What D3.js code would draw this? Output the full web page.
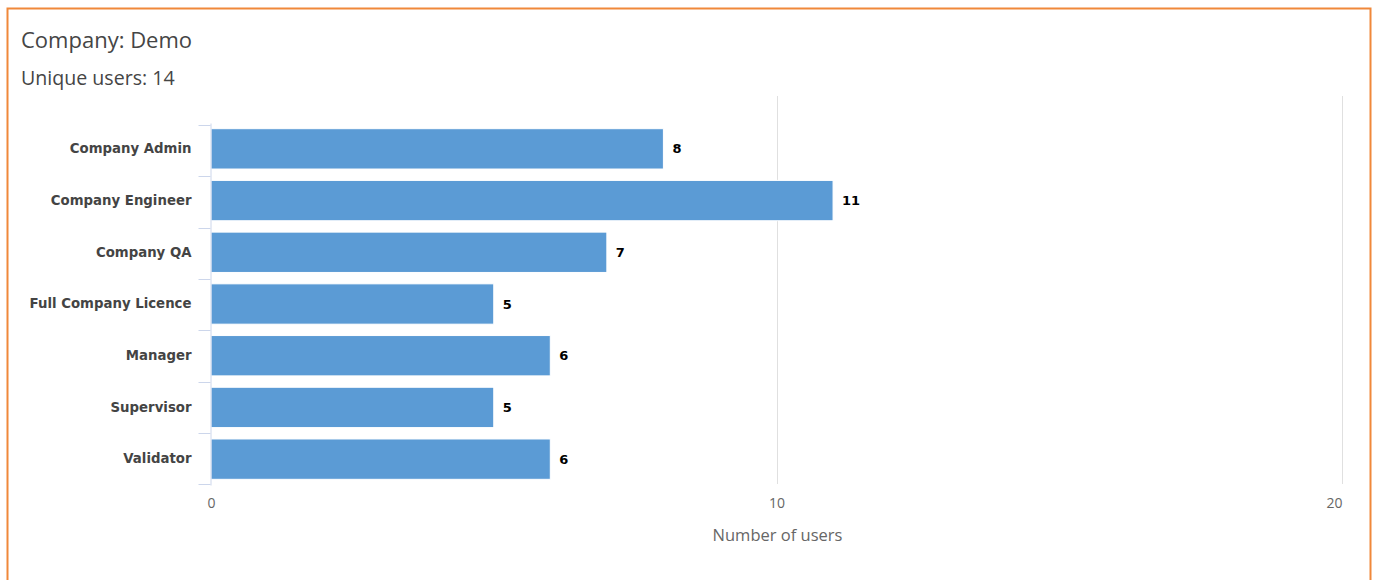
<!DOCTYPE html>
<html>
<head>
<meta charset="utf-8">
<script src="https://cdn.jsdelivr.net/npm/d3@7"></script>
<style>
  body { margin: 0; background: #fff; }
  svg { display: block; }
</style>
</head>
<body>
<div id="chart"></div>
<script>
// data
var categories = ["Company Admin", "Company Engineer", "Company QA", "Full Company Licence", "Manager", "Supervisor", "Validator"];
var users = [8, 11, 7, 5, 6, 5, 6];
var xTicks = [0, 10, 20];

var W = 1376, H = 580;

var svg = d3.select("#chart")
  .append("svg")
  .attr("width", W)
  .attr("height", H);

// orange frame
svg.append("rect")
  .attr("x", 7.5)
  .attr("y", 8.5)
  .attr("width", 1363)
  .attr("height", 600)
  .attr("fill", "none")
  .attr("stroke", "#f0883a")
  .attr("stroke-width", 2);

// titles
svg.append("text")
  .attr("x", 21)
  .attr("y", 48)
  .style("font-family", "'Open Sans', sans-serif")
  .style("font-size", "22px")
  .style("fill", "#454545")
  .text("Company: Demo");

svg.append("text")
  .attr("x", 21)
  .attr("y", 85)
  .style("font-family", "'Open Sans', sans-serif")
  .style("font-size", "19.6px")
  .style("fill", "#454545")
  .text("Unique users: 14");

// scales
var x = d3.scaleLinear().domain([0, 20]).range([211, 1342]);
var y = d3.scaleBand().domain(categories).range([123, 485]).paddingInner(0.22).paddingOuter(0.11);

// gridlines
svg.append("g")
  .selectAll("line")
  .data(xTicks)
  .enter().append("line")
  .attr("x1", function(d) { return Math.round(x(d)) + 0.5; })
  .attr("x2", function(d) { return Math.round(x(d)) + 0.5; })
  .attr("y1", 96)
  .attr("y2", 484)
  .attr("stroke", function(d) { return d === 0 ? "none" : "#e0e0e0"; });

// bars
svg.append("g")
  .selectAll("rect")
  .data(users)
  .enter().append("rect")
  .attr("x", x(0))
  .attr("y", function(d, i) { return y(categories[i]); })
  .attr("width", function(d) { return x(d) - x(0); })
  .attr("height", y.bandwidth())
  .attr("fill", "#5b9bd5")
  .attr("stroke", "#fff")
  .attr("stroke-width", 1);

// value labels
svg.append("g")
  .selectAll("text")
  .data(users)
  .enter().append("text")
  .attr("x", function(d) { return x(d) + 9; })
  .attr("y", function(d, i) { return y(categories[i]) + y.bandwidth() / 2; })
  .attr("dy", "0.35em")
  .style("font-family", "'DejaVu Sans', sans-serif")
  .style("font-size", "13px")
  .style("font-weight", "bold")
  .style("fill", "#000")
  .text(function(d) { return d; });

// y axis
var yAxis = d3.axisLeft(y).tickSize(0).tickPadding(19);
var gy = svg.append("g")
  .attr("transform", "translate(210.5,0)")
  .call(yAxis);
gy.select(".domain").attr("stroke", "#ccd6eb");
gy.selectAll("text")
  .style("font-family", "'DejaVu Sans', sans-serif")
  .style("font-size", "13.3px")
  .style("font-weight", "bold")
  .style("fill", "#444");

// category boundary ticks
var bounds = [125, 176, 228, 279, 330, 382, 433, 484];
gy.append("g")
  .selectAll("line")
  .data(bounds)
  .enter().append("line")
  .attr("x1", -12)
  .attr("x2", 0)
  .attr("y1", function(d) { return d + 0.5; })
  .attr("y2", function(d) { return d + 0.5; })
  .attr("stroke", "#ccd6eb");

// x axis labels
var xAxis = d3.axisBottom(x).tickValues(xTicks).tickSize(0).tickPadding(0);
var gx = svg.append("g")
  .attr("transform", "translate(0,498)")
  .call(xAxis);
gx.select(".domain").remove();
gx.selectAll("text")
  .attr("dy", "0.71em")
  .style("font-family", "'Open Sans', sans-serif")
  .style("font-size", "14px")
  .style("fill", "#666");
// last label kept inside the plot like the original
gx.selectAll(".tick")
  .filter(function(d) { return d === 20; })
  .select("text")
  .attr("text-anchor", "end");

svg.append("text")
  .attr("x", x(10) + 1)
  .attr("y", 541)
  .attr("text-anchor", "middle")
  .style("font-family", "'Open Sans', sans-serif")
  .style("font-size", "16.5px")
  .style("fill", "#666")
  .text("Number of users");
</script>
</body>
</html>
